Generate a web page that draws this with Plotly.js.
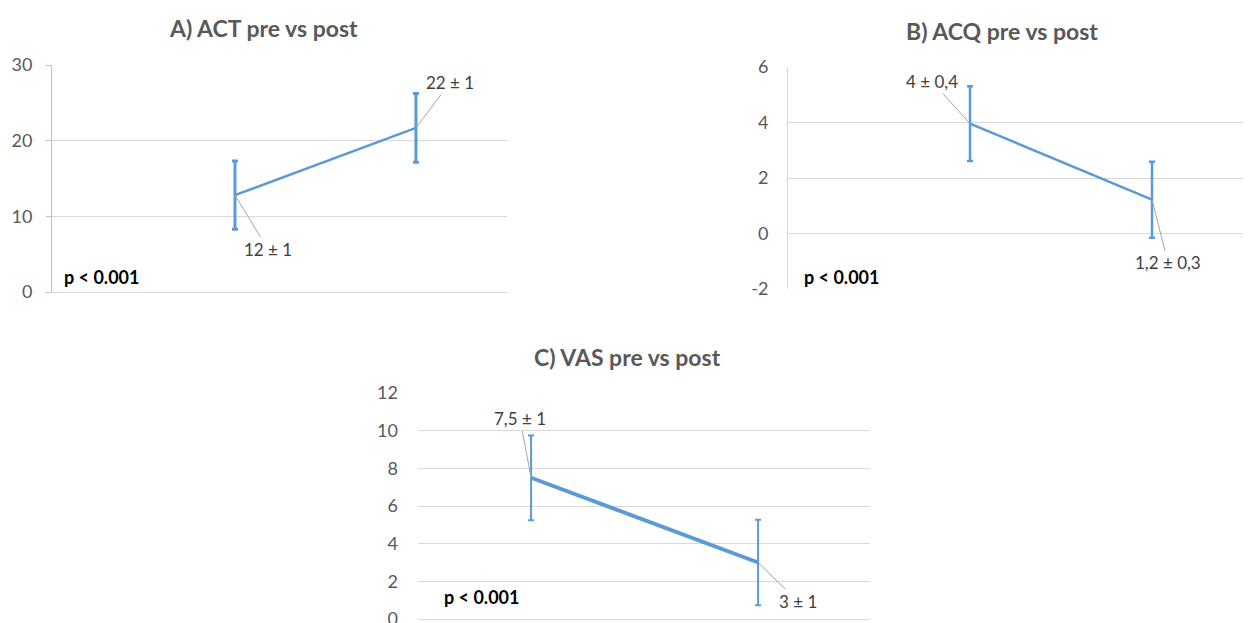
<!DOCTYPE html>
<html>
<head>
<meta charset="utf-8">
<script src="https://cdn.plot.ly/plotly-3.0.1.min.js"></script>
<style>
html,body{margin:0;padding:0;background:#fff;}
#chart{width:1251px;height:623px;}
</style>
</head>
<body>
<div id="chart"></div>
<script>
// ---- data ----
const categories = ["Pre", "Post"];

const actMean = [12.8, 21.7];
const actErr = [4.5, 4.55];
const actLabels = ["12 \u00B1 1", "22 \u00B1 1"];
const actTicks = [0, 10, 20, 30];

const acqMean = [3.96, 1.22];
const acqErr = [1.35, 1.37];
const acqLabels = ["4 \u00B1 0,4", "1,2 \u00B1 0,3"];
const acqTicks = [-2, 0, 2, 4, 6];
const acqTickText = ["-2", "0", "2", "4", "6"];

const vasMean = [7.5, 3.0];
const vasErr = [2.25, 2.27];
const vasLabels = ["7,5 \u00B1 1", "3 \u00B1 1"];
const vasTicks = [0, 2, 4, 6, 8, 10, 12];

const titles = ["A) ACT pre vs post", "B) ACQ pre vs post", "C) VAS pre vs post"];
const pText = "p < 0.001";

// ---- style ----
const W = 1251, H = 623;
const BLUE = "#5B9BD5";
const GRID = "#d9d9d9";
const FONT = "Lato, 'Open Sans', sans-serif";
const px = v => v / W;
const py = v => 1 - v / H;

function trace(mean, err, xa, ya, lw, ew, cw) {
  return {
    type: "scatter", mode: "lines",
    x: categories, y: mean,
    xaxis: xa, yaxis: ya,
    line: {color: BLUE, width: lw},
    error_y: {type: "data", array: err, visible: true, color: BLUE, thickness: ew, width: cw},
    hoverinfo: "skip", showlegend: false
  };
}

const data = [
  trace(actMean, actErr, "x", "y", 2.5, 3, 3),
  trace(acqMean, acqErr, "x2", "y2", 2.5, 2.5, 3),
  trace(vasMean, vasErr, "x3", "y3", 4, 2, 3)
];

function xaxis(domain, range, anchor, showline) {
  return {domain: domain, range: range, type: "category", anchor: anchor,
    showticklabels: false, showgrid: false, zeroline: false,
    showline: showline, linecolor: GRID, linewidth: 1, ticks: ""};
}
function yaxis(domain, range, tickvals, anchor, opts) {
  return Object.assign({domain: domain, range: range, anchor: anchor,
    tickvals: tickvals, showgrid: true, gridcolor: GRID, gridwidth: 1,
    zeroline: true, zerolinecolor: GRID, zerolinewidth: 1,
    showline: false, ticks: "", ticklabeloverflow: "allow",
    tickfont: {family: FONT, size: 18, color: "#595959"},
    ticklabelstandoff: 14}, opts || {});
}

function label(text, xa, ya, xi, yv, ax, ay) {
  return {text: text, xref: xa, yref: ya, x: categories[xi], y: yv,
    ax: ax, ay: ay, showarrow: true, arrowhead: 0, arrowwidth: 1,
    arrowcolor: "#a6a6a6", standoff: 0,
    font: {family: FONT, size: 17, color: "#404040"}};
}
function ptext(xp, yp) {
  return {text: "<b>" + pText + "</b>", xref: "paper", yref: "paper",
    x: px(xp), y: py(yp), xanchor: "left", yanchor: "middle", showarrow: false,
    font: {family: FONT, size: 18, color: "#000000"}};
}
function title(text, xp, yp) {
  return {text: "<b>" + text + "</b>", xref: "paper", yref: "paper",
    x: px(xp), y: py(yp), xanchor: "center", yanchor: "middle", showarrow: false,
    font: {family: FONT, size: 23, color: "#595959"}};
}

const layout = {
  width: W, height: H,
  margin: {l: 0, r: 0, t: 0, b: 0},
  paper_bgcolor: "#ffffff", plot_bgcolor: "rgba(0,0,0,0)",
  showlegend: false,
  xaxis: xaxis([px(52), px(507)], [-1.011, 1.503], "y", true),
  yaxis: yaxis([py(292), py(65)], [0, 30], actTicks, "x",
    {showline: true, linecolor: "#bfbfbf", linewidth: 1, ticks: "outside", ticklen: 5, tickcolor: "#bfbfbf", ticklabelstandoff: 10}),
  xaxis2: xaxis([px(788), px(1243)], [-1.0, 1.5], "y2", false),
  yaxis2: yaxis([py(289), py(67)], [-2, 6], acqTicks, "x2",
    {showline: true, linecolor: GRID, linewidth: 1, ticktext: acqTickText, ticklabelstandoff: 15}),
  xaxis3: xaxis([px(418), px(870)], [-0.498, 1.493], "y3", true),
  yaxis3: yaxis([py(619), py(393)], [0, 12], vasTicks, "x3", {ticklabelstandoff: 19}),
  annotations: [
    title(titles[0], 263, 28),
    title(titles[1], 1002, 31),
    title(titles[2], 628, 357),
    label(actLabels[0], "x", "y", 0, actMean[0], 33, 54),
    label(actLabels[1], "x", "y", 1, actMean[1], 34, -45),
    label(acqLabels[0], "x2", "y2", 0, acqMean[0], -38, -42),
    label(acqLabels[1], "x2", "y2", 1, acqMean[1], 16, 63),
    label(vasLabels[0], "x3", "y3", 0, vasMean[0], -11, -59),
    label(vasLabels[1], "x3", "y3", 1, vasMean[1], 40, 39),
    ptext(62, 277),
    ptext(802, 277),
    ptext(442, 597)
  ]
};

Plotly.newPlot("chart", data, layout, {staticPlot: true, displayModeBar: false});
</script>
</body>
</html>
